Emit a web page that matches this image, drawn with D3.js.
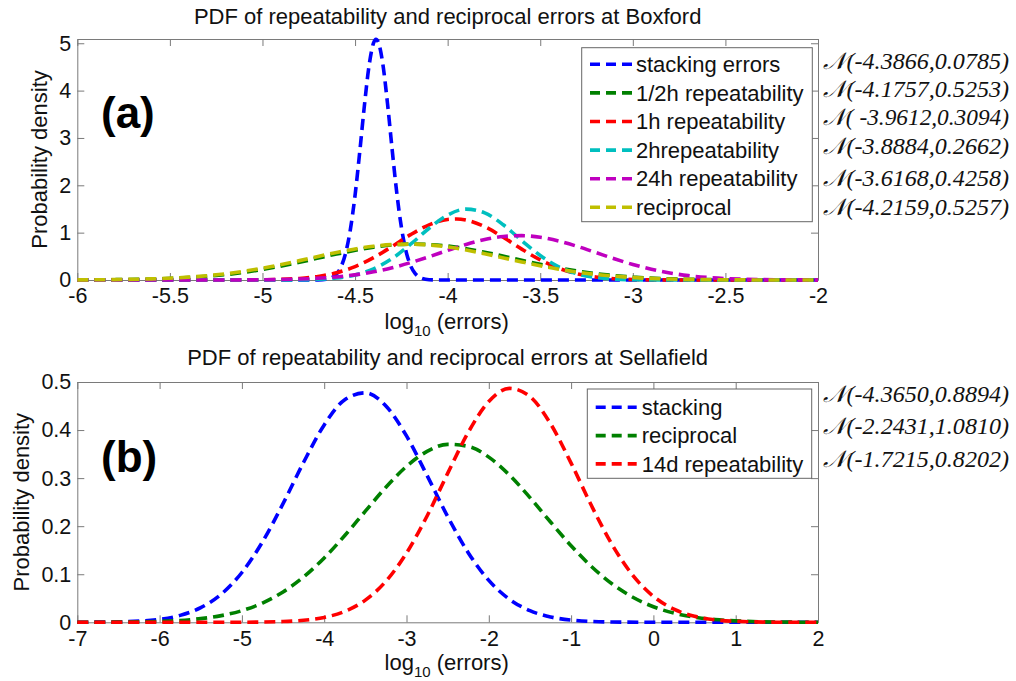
<!DOCTYPE html>
<html>
<head>
<meta charset="utf-8">
<script src="https://cdn.jsdelivr.net/npm/d3@7/dist/d3.min.js"></script>
<style>
  body { margin: 0; background: #fff; }
  svg { display: block; }
  text { white-space: pre; }
</style>
</head>
<body>
<svg id="chart" width="1016" height="681"></svg>
<script>
// ---------------- DATA ----------------
// Panel (a): Boxford
const boxfordTitle = "PDF of repeatability and reciprocal errors at Boxford";
const boxfordSeries = ["stacking errors", "1/2h repeatability", "1h repeatability", "2hrepeatability", "24h repeatability", "reciprocal"];
const boxfordFits = ["\u{1D4A9}(-4.3866,0.0785)", "\u{1D4A9}(-4.1757,0.5253)", "\u{1D4A9}( -3.9612,0.3094)", "\u{1D4A9}(-3.8884,0.2662)", "\u{1D4A9}(-3.6168,0.4258)", "\u{1D4A9}(-4.2159,0.5257)"];
const boxfordXTicks = [-6, -5.5, -5, -4.5, -4, -3.5, -3, -2.5, -2];
const boxfordXTickLabels = ["-6", "-5.5", "-5", "-4.5", "-4", "-3.5", "-3", "-2.5", "-2"];
const boxfordYTicks = [0, 1, 2, 3, 4, 5];
const boxfordYTickLabels = ["0", "1", "2", "3", "4", "5"];

const bxStackingX = [-6, -4.75, -4.7, -4.65, -4.6, -4.575, -4.55, -4.525, -4.5, -4.475, -4.45, -4.425, -4.4, -4.3875, -4.375, -4.35, -4.325, -4.3, -4.275, -4.25, -4.225, -4.2, -4.175, -4.15, -4.1, -4.05, -3.5, -2];
const bxStackingY = [0, 0, 0.002, 0.018, 0.126, 0.285, 0.583, 1.074, 1.790, 2.696, 3.668, 4.509, 5.008, 5.082, 5.027, 4.559, 3.735, 2.766, 1.850, 1.118, 0.611, 0.301, 0.134, 0.054, 0.006, 0.0003, 0, 0];

const bxHalfHourX = [-6, -5.8, -5.6, -5.4, -5.2, -5, -4.8, -4.6, -4.4, -4.2, -4, -3.8, -3.6, -3.4, -3.2, -3, -2.8, -2.6, -2.4, -2.2, -2];
const bxHalfHourY = [0.0018, 0.0064, 0.0192, 0.0502, 0.1135, 0.2217, 0.3748, 0.5481, 0.6933, 0.7587, 0.7182, 0.5881, 0.4166, 0.2553, 0.1353, 0.0620, 0.0246, 0.0084, 0.0025, 0.0006, 0.0001];

const bxOneHourX = [-6, -5.2, -5, -4.9, -4.8, -4.7, -4.6, -4.5, -4.4, -4.3, -4.2, -4.1, -4, -3.95, -3.9, -3.8, -3.7, -3.6, -3.5, -3.4, -3.3, -3.2, -3.1, -3, -2.9, -2.8, -2.6, -2];
const bxOneHourY = [0, 0.0003, 0.0046, 0.0129, 0.0327, 0.0746, 0.1531, 0.2831, 0.4717, 0.7080, 0.9574, 1.1660, 1.2793, 1.2886, 1.2644, 1.1258, 0.9030, 0.6523, 0.4245, 0.2489, 0.1314, 0.0625, 0.0268, 0.0103, 0.0036, 0.0011, 0.0001, 0];

const bxTwoHourX = [-6, -5, -4.8, -4.7, -4.6, -4.5, -4.4, -4.3, -4.2, -4.1, -4, -3.9, -3.8, -3.7, -3.6, -3.5, -3.4, -3.3, -3.2, -3.1, -3, -2.9, -2.8, -2.6, -2];
const bxTwoHourY = [0, 0.0001, 0.0043, 0.0144, 0.0421, 0.1070, 0.2364, 0.4535, 0.7555, 1.0927, 1.3726, 1.4973, 1.4184, 1.1666, 0.8334, 0.5169, 0.2785, 0.1302, 0.0529, 0.0187, 0.0057, 0.0015, 0.0003, 0, 0];

const bxDayX = [-6, -5.4, -5.2, -5, -4.8, -4.6, -4.4, -4.3, -4.2, -4.1, -4, -3.9, -3.8, -3.7, -3.6, -3.5, -3.4, -3.3, -3.2, -3.1, -3, -2.9, -2.8, -2.7, -2.6, -2.4, -2.2, -2];
const bxDayY = [0, 0.0001, 0.0009, 0.0048, 0.0197, 0.0651, 0.1726, 0.2586, 0.3667, 0.4921, 0.6249, 0.7510, 0.8541, 0.9192, 0.9362, 0.9023, 0.8230, 0.7104, 0.5802, 0.4486, 0.3281, 0.2272, 0.1488, 0.0923, 0.0542, 0.0158, 0.0037, 0.0007];

const bxReciprocalX = [-6, -5.8, -5.6, -5.4, -5.2, -5, -4.8, -4.6, -4.4, -4.2, -4, -3.8, -3.6, -3.4, -3.2, -3, -2.8, -2.6, -2.4, -2.2, -2];
const bxReciprocalY = [0.0024, 0.0081, 0.0237, 0.0601, 0.1316, 0.2495, 0.4093, 0.5811, 0.7138, 0.7585, 0.6975, 0.5550, 0.3820, 0.2276, 0.1172, 0.0523, 0.0202, 0.0067, 0.0020, 0.0005, 0.0001];

// Panel (b): Sellafield
const sellafieldTitle = "PDF of repeatability and reciprocal errors at Sellafield";
const sellafieldSeries = ["stacking", "reciprocal", "14d repeatability"];
const sellafieldFits = ["\u{1D4A9}(-4.3650,0.8894)", "\u{1D4A9}(-2.2431,1.0810)", "\u{1D4A9}(-1.7215,0.8202)"];
const sellafieldXTicks = [-7, -6, -5, -4, -3, -2, -1, 0, 1, 2];
const sellafieldXTickLabels = ["-7", "-6", "-5", "-4", "-3", "-2", "-1", "0", "1", "2"];
const sellafieldYTicks = [0, 0.1, 0.2, 0.3, 0.4, 0.5];
const sellafieldYTickLabels = ["0", "0.1", "0.2", "0.3", "0.4", "0.5"];

const slStackingX = [-7, -6.5, -6, -5.75, -5.5, -5.25, -5, -4.75, -4.5, -4.25, -4, -3.75, -3.5, -3.25, -3, -2.75, -2.5, -2.25, -2, -1.75, -1.5, -1.25, -1, -0.5, 0, 0.5, 1, 1.5, 2];
const slStackingY = [0.0001, 0.0009, 0.0062, 0.0144, 0.0304, 0.0587, 0.1036, 0.1673, 0.2468, 0.3330, 0.4107, 0.4631, 0.4775, 0.4500, 0.3878, 0.3055, 0.2201, 0.1449, 0.0873, 0.0480, 0.0242, 0.0111, 0.0047, 0.0006, 0.0001, 0, 0, 0, 0];

const slReciprocalX = [-7, -6.5, -6, -5.5, -5.25, -5, -4.75, -4.5, -4.25, -4, -3.75, -3.5, -3.25, -3, -2.75, -2.5, -2.25, -2, -1.75, -1.5, -1.25, -1, -0.75, -0.5, -0.25, 0, 0.25, 0.5, 0.75, 1, 1.5, 2];
const slReciprocalY = [0.0001, 0.0004, 0.0019, 0.0076, 0.0139, 0.0242, 0.0401, 0.0632, 0.0944, 0.1340, 0.1806, 0.2312, 0.2810, 0.3244, 0.3556, 0.3703, 0.3661, 0.3437, 0.3065, 0.2595, 0.2087, 0.1594, 0.1156, 0.0796, 0.0521, 0.0324, 0.0191, 0.0107, 0.0057, 0.0029, 0.0006, 0.0001];

const slFortnightX = [-7, -6, -5, -4.5, -4.25, -4, -3.75, -3.5, -3.25, -3, -2.75, -2.5, -2.25, -2, -1.75, -1.5, -1.25, -1, -0.75, -0.5, -0.25, 0, 0.25, 0.5, 0.75, 1, 1.5, 2];
const slFortnightY = [0, 0, 0.0002, 0.0016, 0.0042, 0.0102, 0.0227, 0.0462, 0.0854, 0.1440, 0.2212, 0.3098, 0.3952, 0.4594, 0.4867, 0.4698, 0.4132, 0.3312, 0.2419, 0.1610, 0.0976, 0.0540, 0.0272, 0.0125, 0.0052, 0.0020, 0.0002, 0];

// ---------------- STYLE ----------------
const boxfordColors = ["#0000FF", "#008000", "#FF0000", "#00BFBF", "#BF00BF", "#BFBF00"];
const sellafieldColors = ["#0000FF", "#008000", "#FF0000"];
const SANS = "'Liberation Sans', Arial, Helvetica, sans-serif";
const SERIF = "'Liberation Serif', 'DejaVu Serif', 'Times New Roman', serif";
const AXIS_COLOR = "#7a7a7a";

const svg = d3.select("#chart");
svg.append("rect").attr("width", 1016).attr("height", 681).attr("fill", "#fff");

function drawPanel(o) {
  const g = svg.append("g");
  const x = d3.scaleLinear().domain(o.xDomain).range([o.left, o.right]);
  const y = d3.scaleLinear().domain(o.yDomain).range([o.bottom, o.top]);

  // axes (box with inward ticks on all sides)
  const styleAxis = sel => {
    sel.attr("font-size", null).attr("font-family", null);
    sel.select(".domain").attr("stroke", AXIS_COLOR).attr("stroke-width", 1);
    sel.selectAll(".tick line").attr("stroke", AXIS_COLOR).attr("stroke-width", 1);
    sel.selectAll(".tick text").attr("fill", "#111").style("font-family", SANS).style("font-size", "21.5px");
  };
  g.append("g").attr("transform", `translate(0,${o.bottom})`)
    .call(d3.axisBottom(x).tickValues(o.xTicks).tickFormat((d, i) => o.xTickLabels[i]).tickSizeInner(-7).tickSizeOuter(0).tickPadding(8))
    .call(styleAxis);
  g.append("g").attr("transform", `translate(0,${o.top})`)
    .call(d3.axisTop(x).tickValues(o.xTicks).tickFormat("").tickSizeInner(-7).tickSizeOuter(0))
    .call(styleAxis);
  g.append("g").attr("transform", `translate(${o.left},0)`)
    .call(d3.axisLeft(y).tickValues(o.yTicks).tickFormat((d, i) => o.yTickLabels[i]).tickSizeInner(-7).tickSizeOuter(0).tickPadding(6))
    .call(styleAxis);
  g.append("g").attr("transform", `translate(${o.right},0)`)
    .call(d3.axisRight(y).tickValues(o.yTicks).tickFormat("").tickSizeInner(-7).tickSizeOuter(0))
    .call(styleAxis);

  // curves
  const line = d3.line().x(d => x(d[0])).y(d => y(d[1])).curve(d3.curveMonotoneX);
  o.series.forEach((s, i) => {
    const pts = s.x.map((v, j) => [v, s.y[j]]);
    g.append("path").attr("d", line(pts))
      .attr("fill", "none").attr("stroke", o.colors[i])
      .attr("stroke-width", 3.6).attr("stroke-dasharray", "11,6")
      .attr("stroke-linejoin", "round");
  });

  // title
  g.append("text").attr("x", (o.left + o.right) / 2).attr("y", o.titleY)
    .attr("text-anchor", "middle").style("font-family", SANS).style("font-size", "22px").attr("fill", "#111")
    .text(o.title);

  // x label with subscript
  const xl = g.append("text").attr("x", (o.left + o.right) / 2 - 1).attr("y", o.xLabelY)
    .attr("text-anchor", "middle").style("font-family", SANS).style("font-size", "22px").attr("fill", "#111");
  xl.append("tspan").text("log");
  xl.append("tspan").attr("dy", 7).style("font-size", "15px").text("10");
  xl.append("tspan").attr("dy", -7).text(" (errors)");

  // y label
  g.append("text").attr("transform", `translate(${o.yLabelX},${(o.top + o.bottom) / 2}) rotate(-90)`)
    .attr("text-anchor", "middle").style("font-family", SANS).style("font-size", "22px").attr("fill", "#111")
    .text("Probability density");

  // panel letter
  g.append("text").attr("x", 101).attr("y", o.letterY)
    .style("font-family", SANS).style("font-weight", "bold").style("font-size", "44px").attr("fill", "#000")
    .text(o.letter);

  // legend
  const lg = o.legend;
  g.append("rect").attr("x", lg.x0).attr("y", lg.y0).attr("width", lg.x1 - lg.x0).attr("height", lg.y1 - lg.y0)
    .attr("fill", "#fff").attr("stroke", "#666").attr("stroke-width", 1);
  o.names.forEach((n, i) => {
    const cy = lg.rowY0 + i * lg.rowStep;
    g.append("line").attr("x1", lg.lineX0).attr("x2", lg.lineX1).attr("y1", cy).attr("y2", cy)
      .attr("stroke", o.colors[i]).attr("stroke-width", 3.6).attr("stroke-dasharray", "10,6");
    g.append("text").attr("x", lg.textX).attr("y", cy).attr("dy", "0.35em")
      .style("font-family", SANS).style("font-size", "22px").attr("fill", "#111").text(n);
  });

  // fitted normal labels on the right
  o.fits.forEach((f, i) => {
    g.append("text").attr("x", 823).attr("y", o.fitY[i] + 7)
      .style("font-family", SERIF).style("font-style", "italic").style("font-size", "23.5px").attr("fill", "#111")
      .attr("textLength", 186).attr("lengthAdjust", "spacingAndGlyphs")
      .text(f);
  });
}

drawPanel({
  xDomain: [-6, -2], yDomain: [0, 5.09],
  left: 77.3, right: 818, top: 39, bottom: 280,
  xTicks: boxfordXTicks, xTickLabels: boxfordXTickLabels,
  yTicks: boxfordYTicks, yTickLabels: boxfordYTickLabels,
  series: [
    { x: bxStackingX, y: bxStackingY },
    { x: bxHalfHourX, y: bxHalfHourY },
    { x: bxOneHourX, y: bxOneHourY },
    { x: bxTwoHourX, y: bxTwoHourY },
    { x: bxDayX, y: bxDayY },
    { x: bxReciprocalX, y: bxReciprocalY }
  ],
  colors: boxfordColors, names: boxfordSeries, fits: boxfordFits,
  fitY: [61.7, 90, 118.3, 146.7, 179, 208.3],
  title: boxfordTitle, titleY: 24, xLabelY: 329, yLabelX: 47, letter: "(a)", letterY: 128,
  legend: { x0: 581.7, y0: 47.7, x1: 812.3, y1: 221.7, rowY0: 64.3, rowStep: 28.6, lineX0: 590, lineX1: 632, textX: 636 }
});

drawPanel({
  xDomain: [-7, 2], yDomain: [0, 0.5],
  left: 77.3, right: 818, top: 382, bottom: 622.3,
  xTicks: sellafieldXTicks, xTickLabels: sellafieldXTickLabels,
  yTicks: sellafieldYTicks, yTickLabels: sellafieldYTickLabels,
  series: [
    { x: slStackingX, y: slStackingY },
    { x: slReciprocalX, y: slReciprocalY },
    { x: slFortnightX, y: slFortnightY }
  ],
  colors: sellafieldColors, names: sellafieldSeries, fits: sellafieldFits,
  fitY: [395, 427.3, 460],
  title: sellafieldTitle, titleY: 364.5, xLabelY: 670, yLabelX: 28.5, letter: "(b)", letterY: 472,
  legend: { x0: 587.3, y0: 389, x1: 811.7, y1: 478.3, rowY0: 407.3, rowStep: 28.3, lineX0: 595.7, lineX1: 636.7, textX: 641.7 }
});
</script>
</body>
</html>
